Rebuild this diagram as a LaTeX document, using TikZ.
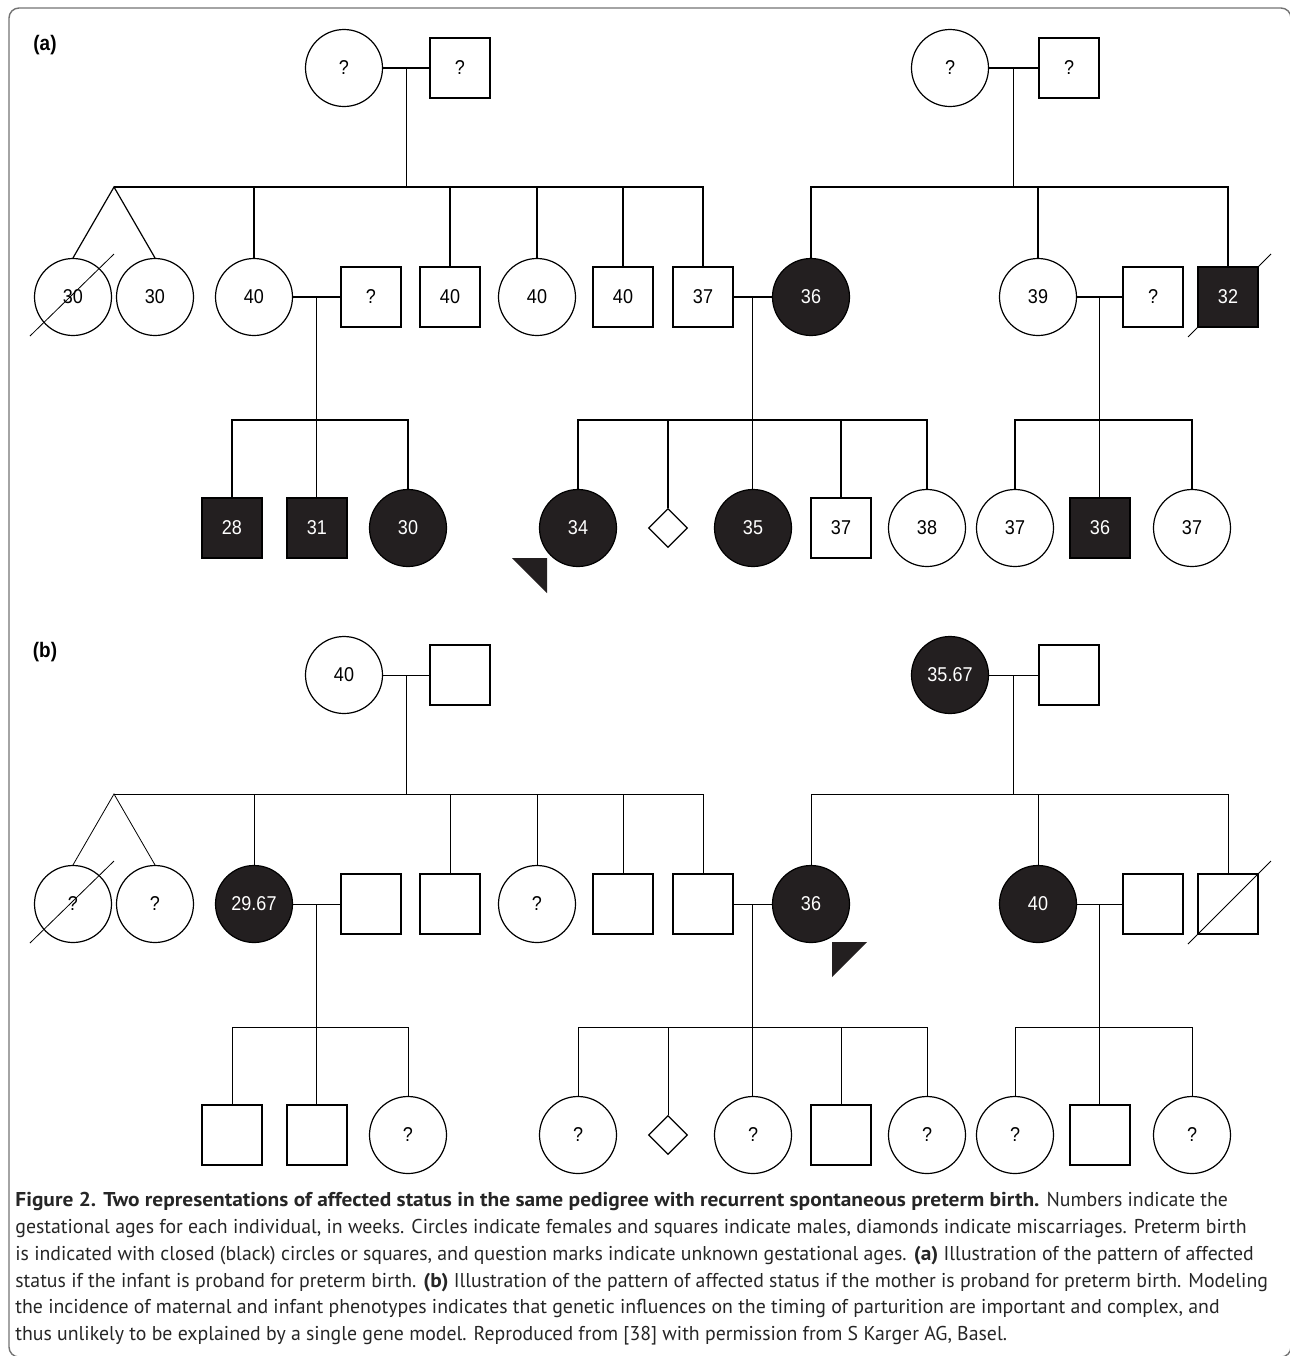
\documentclass[tikz,border=0pt]{standalone}
\usepackage{fontspec}
\setmainfont{PT Sans}
\newfontfamily\pedfont[FakeStretch=0.9]{Liberation Sans}
\newfontfamily\capfont[FakeStretch=0.99]{PT Sans}
\newfontfamily\capbf[FakeStretch=1.07]{PT Sans Bold}
\newcommand\cb[1]{{\capbf #1}}
\usetikzlibrary{shapes.geometric,calc,backgrounds}
\definecolor{aff}{HTML}{231F20}
\definecolor{framegray}{gray}{0.45}

\begin{document}
\begin{tikzpicture}[x=0.5pt, y=-0.5pt, line width=0.6pt,
  font=\pedfont\fontsize{10}{12}\selectfont,
  fem/.style={circle, draw, minimum size=38.5pt, inner sep=0pt},
  mal/.style={rectangle, draw, minimum size=30pt, inner sep=0pt},
  affd/.style={fill=aff, text=white},
  loss/.style={diamond, draw, minimum size=19.5pt, inner sep=0pt},
  lbl/.style={font=\pedfont\bfseries\fontsize{10.5}{12}\selectfont}]
\useasboundingbox (0,0) rectangle (1290,1356);
\clip (0,0) rectangle (1290,1356);
\draw[framegray, line width=0.7pt, rounded corners=5pt] (9,8) rectangle (1291,1357);

% (a) infant as proband
\node[lbl] (alab) at (45,45) {(a)};
\node[fem] (aGM1) at (344,68) {?};
\node[mal] (aGF1) at (460,68) {?};
\node[fem] (aGM2) at (950,68) {?};
\node[mal] (aGF2) at (1069,68) {?};
\node[fem] (aT1) at (73,297) {30};
\node[fem] (aT2) at (155,297) {30};
\node[fem] (aD1) at (254,297) {40};
\node[mal] (aH1) at (371,297) {?};
\node[mal] (aS1) at (450,297) {40};
\node[fem] (aD2) at (537,297) {40};
\node[mal] (aS2) at (623,297) {40};
\node[mal] (aS3) at (703,297) {37};
\node[fem, affd] (aD3) at (811,297) {36};
\node[fem] (aD4) at (1038,297) {39};
\node[mal] (aH2) at (1153,297) {?};
\node[mal, affd] (aS4) at (1228,297) {32};
\node[mal, affd] (aC1) at (232,528) {28};
\node[mal, affd] (aC2) at (317,528) {31};
\node[fem, affd] (aC3) at (408,528) {30};
\node[fem, affd] (aC4) at (578,528) {34};
\node[loss] (aC5) at (668,528) {};
\node[fem, affd] (aC6) at (753,528) {35};
\node[mal] (aC7) at (841,528) {37};
\node[fem] (aC8) at (927,528) {38};
\node[fem] (aC9) at (1015,528) {37};
\node[mal, affd] (aC10) at (1100,528) {36};
\node[fem] (aC11) at (1192,528) {37};
\coordinate (aTw) at (114,187);
\coordinate (aG2) at (0,187);
\coordinate (aG3) at (0,420);
\fill[aff] ([shift={(-66,30)}]aC4.center) -- ([shift={(-31,30)}]aC4.center)
  -- ([shift={(-31,65)}]aC4.center) -- cycle;

% (b) mother as proband
\begin{scope}[yshift=-303.5pt]
\node[lbl] (blab) at (45,45) {(b)};
\node[fem] (bGM1) at (344,68) {40};
\node[mal] (bGF1) at (460,68) {};
\node[fem, affd] (bGM2) at (950,68) {35.67};
\node[mal] (bGF2) at (1069,68) {};
\node[fem] (bT1) at (73,297) {?};
\node[fem] (bT2) at (155,297) {?};
\node[fem, affd] (bD1) at (254,297) {29.67};
\node[mal] (bH1) at (371,297) {};
\node[mal] (bS1) at (450,297) {};
\node[fem] (bD2) at (537,297) {?};
\node[mal] (bS2) at (623,297) {};
\node[mal] (bS3) at (703,297) {};
\node[fem, affd] (bD3) at (811,297) {36};
\node[fem, affd] (bD4) at (1038,297) {40};
\node[mal] (bH2) at (1153,297) {};
\node[mal] (bS4) at (1228,297) {};
\node[mal] (bC1) at (232,528) {};
\node[mal] (bC2) at (317,528) {};
\node[fem] (bC3) at (408,528) {?};
\node[fem] (bC4) at (578,528) {?};
\node[loss] (bC5) at (668,528) {};
\node[fem] (bC6) at (753,528) {?};
\node[mal] (bC7) at (841,528) {};
\node[fem] (bC8) at (927,528) {?};
\node[fem] (bC9) at (1015,528) {?};
\node[mal] (bC10) at (1100,528) {};
\node[fem] (bC11) at (1192,528) {?};
\coordinate (bTw) at (114,187);
\coordinate (bG2) at (0,187);
\coordinate (bG3) at (0,420);
\fill[aff] ([shift={(21,38)}]bD3.center) -- ([shift={(56,38)}]bD3.center)
  -- ([shift={(21,73)}]bD3.center) -- cycle;
\end{scope}

% lines of descent, same in both panels
\foreach \p in {a,b} {
  \foreach \u/\v/\m in {GM1/GF1/M1, GM2/GF2/M2, D1/H1/M3, S3/D3/M4, D4/H2/M5}
    \draw (\p\u) -- (\p\v) coordinate[midway] (\p\m);
  \foreach \m in {M1,M2} \draw (\p\m) -- (\p\m |- \p G2);
  \foreach \m/\c in {M3/C2, M4/C6, M5/C10} \draw (\p\m) -- (\p\m |- \p\c.north);
  \draw (\p T1.north) -- (\p Tw) -- (\p T2.north);
  \draw (\p Tw) -- (\p S3.north |- \p Tw) -- (\p S3.north);
  \foreach \c in {D1,S1,D2,S2,D4} \draw (\p\c.north) -- (\p\c.north |- \p G2);
  \draw (\p D3.north) -- (\p D3.north |- \p G2) -- (\p S4.north |- \p G2) -- (\p S4.north);
  \foreach \l/\r in {C1/C3, C4/C8, C9/C11}
    \draw (\p\l.north) -- (\p\l.north |- \p G3) -- (\p\r.north |- \p G3) -- (\p\r.north);
  \foreach \c in {C5,C7} \draw (\p\c.north) -- (\p\c.north |- \p G3);
  % deceased: slash behind the symbol
  \begin{pgfonlayer}{background}
  \draw ([shift={(-43,39)}]\p T1.center) -- ([shift={(41,-43)}]\p T1.center);
  \draw ([shift={(-40,40)}]\p S4.center) -- ([shift={(43,-43)}]\p S4.center);
  \end{pgfonlayer}
}

\node[anchor=north west, inner sep=0pt, align=left, text=black!85,
  font=\capfont\fontsize{10}{13.4}\selectfont] (cap) at (15,1192) {%
  \cb{Figure 2. Two representations of affected status in the same pedigree with recurrent spontaneous preterm birth.} Numbers indicate the\\
  gestational ages for each individual, in weeks. Circles indicate females and squares indicate males, diamonds indicate miscarriages. Preterm birth\\
  is indicated with closed (black) circles or squares, and question marks indicate unknown gestational ages. \cb{(a)} Illustration of the pattern of affected\\
  status if the infant is proband for preterm birth. \cb{(b)} Illustration of the pattern of affected status if the mother is proband for preterm birth. Modeling\\
  the incidence of maternal and infant phenotypes indicates that genetic influences on the timing of parturition are important and complex, and\\
  thus unlikely to be explained by a single gene model. Reproduced from [38] with permission from S Karger AG, Basel.};
\end{tikzpicture}
\end{document}
